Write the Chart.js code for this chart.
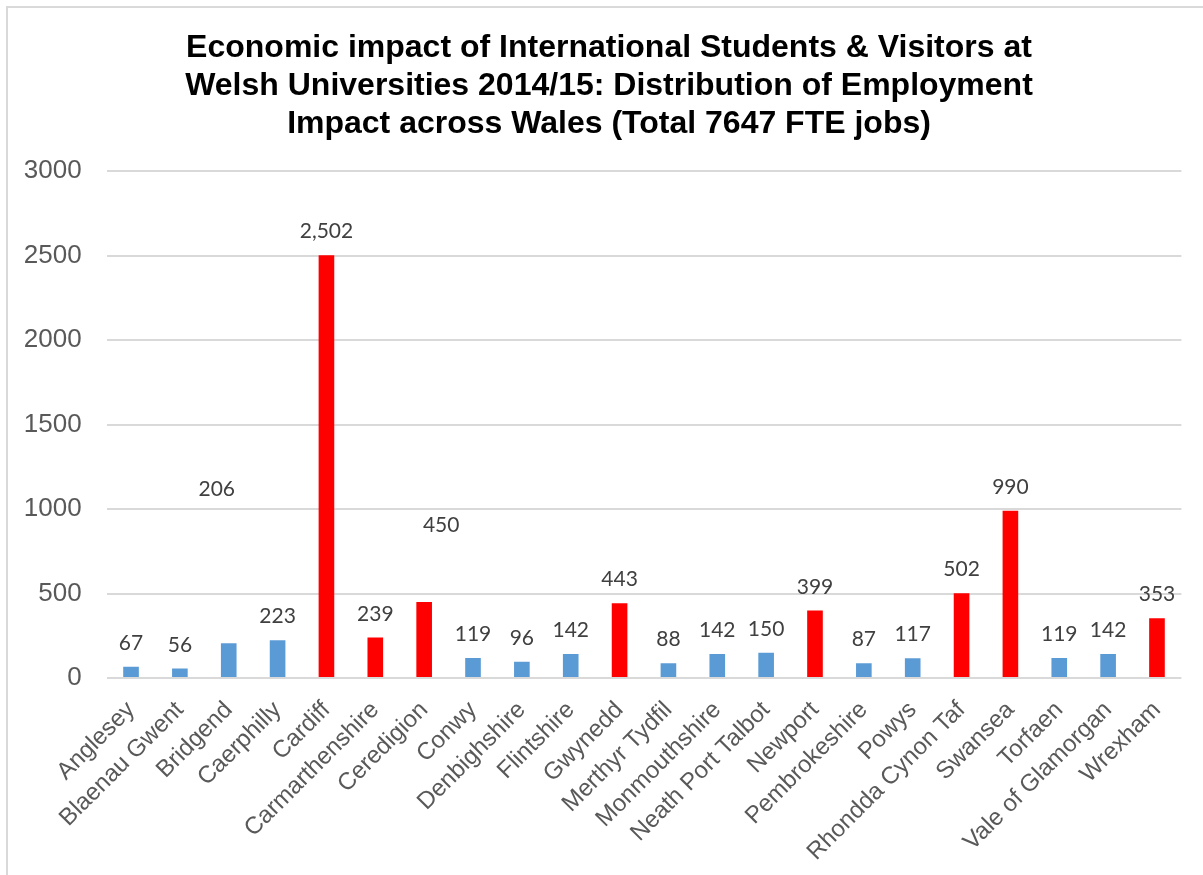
<!DOCTYPE html>
<html>
<head>
<meta charset="utf-8">
<script src="https://cdn.jsdelivr.net/npm/chart.js@4.4.1/dist/chart.umd.min.js"></script>
<style>
  html, body { margin: 0; padding: 0; background: #fff; overflow: hidden; }
  #frame { position: absolute; left: 6px; top: 6px; width: 1220px; height: 900px; border: 2px solid #d9d9d9; }
  #wrap { position: absolute; left: 0; top: 0; width: 1203px; height: 875px; }
</style>
</head>
<body>
<div id="frame"></div>
<div id="wrap"><canvas id="chart"></canvas></div>
<script>
const areas = ['Anglesey', 'Blaenau Gwent', 'Bridgend', 'Caerphilly', 'Cardiff', 'Carmarthenshire',
  'Ceredigion', 'Conwy', 'Denbighshire', 'Flintshire', 'Gwynedd', 'Merthyr Tydfil', 'Monmouthshire',
  'Neath Port Talbot', 'Newport', 'Pembrokeshire', 'Powys', 'Rhondda Cynon Taf', 'Swansea', 'Torfaen',
  'Vale of Glamorgan', 'Wrexham'];
const jobs = [67, 56, 206, 223, 2502, 239, 450, 119, 96, 142, 443, 88, 142, 150, 399, 87, 117, 502, 990, 119, 142, 353];
// areas hosting a university campus (red bars)
const universityAreas = ['Cardiff', 'Carmarthenshire', 'Ceredigion', 'Gwynedd', 'Newport',
  'Rhondda Cynon Taf', 'Swansea', 'Wrexham'];
const yTicks = [0, 500, 1000, 1500, 2000, 2500, 3000];

const BLUE = '#5b9bd5';
const RED = '#ff0000';
const ARIAL = '"Liberation Sans", Arial, sans-serif';

// a couple of labels sit away from their bars in the original
const labelShift = { 'Bridgend': [-12, -130], 'Ceredigion': [17, -53] };

const barLabels = {
  id: 'barLabels',
  afterDatasetsDraw(chart) {
    const { ctx } = chart;
    const meta = chart.getDatasetMeta(0);
    ctx.save();
    ctx.font = '21px Lato, "Noto Sans", sans-serif';
    ctx.fillStyle = '#404040';
    ctx.textAlign = 'center';
    ctx.textBaseline = 'alphabetic';
    meta.data.forEach((bar, i) => {
      const shift = labelShift[areas[i]] || [0, 0];
      const text = jobs[i].toLocaleString('en-US');
      ctx.fillText(text, bar.x + shift[0], bar.y - 17 + shift[1]);
    });
    ctx.restore();
  }
};

// title in the original sits a little right of the canvas centre
const titleNudge = {
  id: 'titleNudge',
  afterLayout(chart) {
    if (chart.titleBlock) chart.titleBlock.left += 22.6;
  }
};

new Chart(document.getElementById('chart'), {
  type: 'bar',
  plugins: [barLabels, titleNudge],
  data: {
    labels: areas,
    datasets: [{
      data: jobs,
      backgroundColor: areas.map((a) => (universityAreas.includes(a) ? RED : BLUE)),
      barPercentage: 0.32,
      categoryPercentage: 1.0,
    }],
  },
  options: {
    responsive: true,
    maintainAspectRatio: false,
    animation: false,
    layout: { padding: { left: 14, right: 21.6, top: 0, bottom: 0 } },
    plugins: {
      legend: { display: false },
      tooltip: { enabled: false },
      title: {
        display: true,
        text: ['Economic impact of International Students & Visitors at',
          'Welsh Universities 2014/15: Distribution of Employment',
          'Impact across Wales (Total 7647 FTE jobs)'],
        color: '#000',
        font: { family: ARIAL, size: 32, weight: 'bold', lineHeight: 38 / 32 },
        padding: { top: 29, bottom: 28 },
      },
    },
    scales: {
      y: {
        min: 0,
        max: 3000,
        afterBuildTicks(scale) { scale.ticks = yTicks.map((v) => ({ value: v })); },
        afterFit(scale) { scale.width = 92.6; },
        grid: { color: '#d9d9d9', lineWidth: 2, drawTicks: false },
        border: { display: false },
        ticks: {
          color: '#595959',
          padding: 25,
          font: { family: ARIAL, size: 26 },
          callback: (v) => String(v),
        },
      },
      x: {
        afterFit(scale) { scale.height = 197; },
        grid: { display: false, drawTicks: false },
        border: { display: false },
        ticks: {
          color: '#595959',
          autoSkip: false,
          maxRotation: 45,
          minRotation: 45,
          padding: 18,
          font: { family: ARIAL, size: 24 },
        },
      },
    },
  },
});
</script>
</body>
</html>
